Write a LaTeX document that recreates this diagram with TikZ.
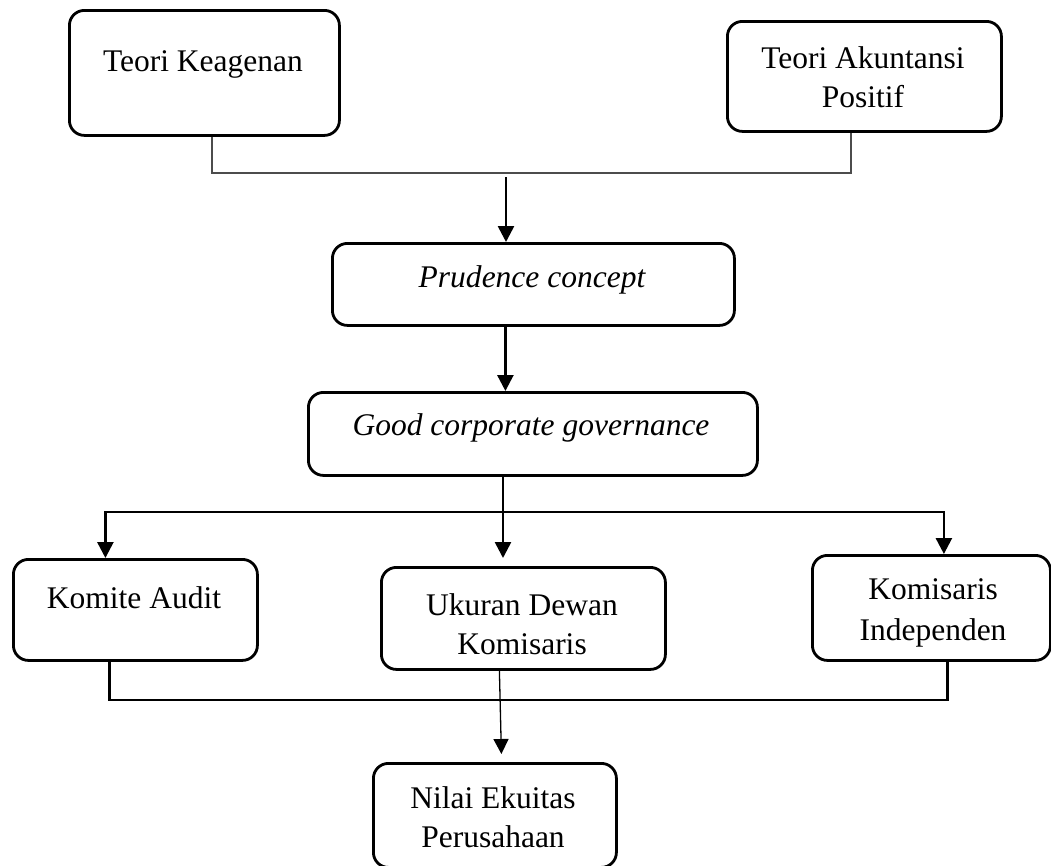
\documentclass[tikz,border=0pt]{standalone}
\usepackage{fontspec}
\setmainfont{Liberation Serif}
\usetikzlibrary{arrows.meta}
\begin{document}
\begin{tikzpicture}[x=1pt,y=-1pt,
  box/.style={draw, line width=2.8pt, rounded corners=15pt, anchor=north west, inner sep=0pt},
  txt/.style={anchor=base, inner sep=0pt, font=\fontsize{31.5}{39}\selectfont},
  link/.style={line width=2.6pt},
  arr/.style={line width=2.6pt, -{Triangle[length=16pt,width=16pt]}},
  thinarr/.style={line width=1.3pt, -{Triangle[length=15pt,width=15pt]}},
  toplink/.style={line width=2pt, draw=black!70}]
\useasboundingbox (0,0) rectangle (1051,865);

% boxes
\node[box, minimum width=270pt, minimum height=125pt] (tk)  at (68,9)   {};
\node[box, minimum width=274pt, minimum height=110pt] (tap) at (726,20) {};
\node[box, minimum width=402pt, minimum height=82pt]  (pc)  at (331,242) {};
\node[box, minimum width=449pt, minimum height=83pt]  (gcg) at (307,391) {};
\node[box, minimum width=244pt, minimum height=101pt] (ka)  at (12,558) {};
\node[box, minimum width=284pt, minimum height=102pt] (udk) at (380,566) {};
\node[box, minimum width=238pt, minimum height=105pt] (ki)  at (811,554) {};
\node[box, minimum width=243pt, minimum height=104pt] (nv)  at (372,762) {};

% texts
\node[txt] (tkt)  at (203,71)  {Teori Keagenan};
\node[txt] (tapa) at (863,68)  {Teori Akuntansi};
\node[txt] (tapb) at (863,107) {Positif};
\node[txt] (pct)  at (532,287) {\itshape Prudence concept};
\node[txt] (gcgt) at (531,435) {\itshape Good corporate governance};
\node[txt] (kat)  at (134,608) {Komite Audit};
\node[txt] (udka) at (522,615) {Ukuran Dewan};
\node[txt] (udkb) at (522,654) {Komisaris};
\node[txt] (kia)  at (933,599) {Komisaris};
\node[txt] (kib)  at (933,640) {Independen};
\node[txt] (nva)  at (493,808) {Nilai Ekuitas};
\node[txt] (nvb)  at (493,847) {Perusahaan};

% connectors
\coordinate (jtop) at (506,173);
\draw[toplink] ([xshift=8pt]tk.south) |- (jtop) -| ([xshift=-13pt]tap.south);
\coordinate (a1) at (506,177);
\draw[arr] (a1) -- (a1 |- pc.north);
\draw[arr] ([xshift=-28pt]pc.south) -- ([xshift=-28pt]pc.south |- gcg.north);

\coordinate (jmid) at (503,512);
\draw[arr] (gcg.south -| jmid) -- ([yshift=8pt]udk.north -| jmid);
\draw[arr] (jmid) -| ([xshift=-30pt]ka.north);
\draw[arr] (jmid) -| ([xshift=12.5pt]ki.north);

\coordinate (jbot) at (500,700);
\draw[link] ([xshift=-26pt]ka.south) |- (jbot) -| ([xshift=16pt]ki.south);
\draw[thinarr] ([xshift=-24pt]udk.south) -- ([xshift=6.5pt,yshift=8pt]nv.north);
\end{tikzpicture}
\end{document}
